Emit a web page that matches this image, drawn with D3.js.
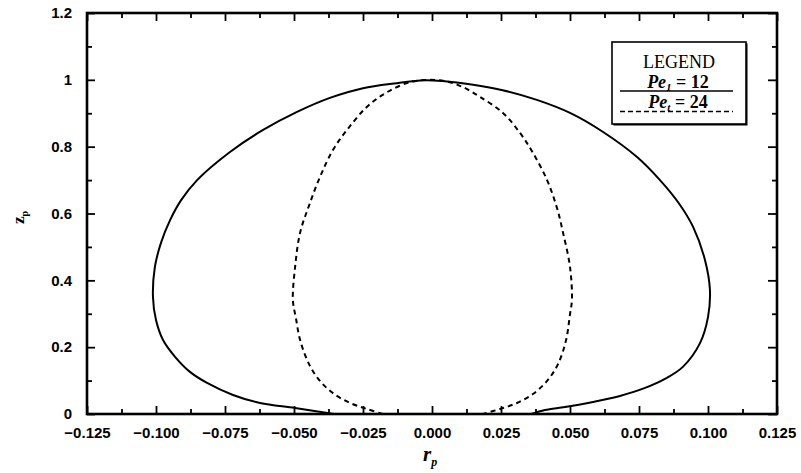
<!DOCTYPE html>
<html>
<head>
<meta charset="utf-8">
<script src="https://cdn.jsdelivr.net/npm/d3@7"></script>
<style>
  body { margin: 0; background: #fff; }
  svg { display: block; }
</style>
</head>
<body>
<svg id="chart" width="801" height="473"></svg>
<script>
// data: [r_p, z_p]
var pe12 = [
  [-0.0355, 0.000], [-0.0496, 0.018], [-0.0623, 0.033], [-0.0721, 0.057],
  [-0.0815, 0.093], [-0.0877, 0.126], [-0.0931, 0.171], [-0.0975, 0.222],
  [-0.1000, 0.281], [-0.1011, 0.350], [-0.1004, 0.440], [-0.0982, 0.512],
  [-0.0949, 0.580], [-0.0909, 0.640], [-0.0851, 0.700], [-0.0732, 0.784],
  [-0.0612, 0.850], [-0.0489, 0.904], [-0.0370, 0.946], [-0.0250, 0.975],
  [-0.0127, 0.990], [-0.0030, 0.999], [0.0046, 0.996], [0.0137, 0.987],
  [0.0256, 0.969], [0.0380, 0.940], [0.0500, 0.901], [0.0620, 0.844],
  [0.0743, 0.769], [0.0826, 0.700], [0.0895, 0.630], [0.0946, 0.560],
  [0.0989, 0.461], [0.1007, 0.371], [0.1000, 0.290], [0.0971, 0.212],
  [0.0909, 0.141], [0.0844, 0.105], [0.0772, 0.078], [0.0681, 0.054],
  [0.0583, 0.036], [0.0482, 0.021], [0.0409, 0.012], [0.0360, 0.000]
];
var pe24 = [
  [-0.0178, 0.000], [-0.0236, 0.015], [-0.0297, 0.033], [-0.0355, 0.060],
  [-0.0406, 0.099], [-0.0446, 0.150], [-0.0478, 0.222], [-0.0493, 0.287],
  [-0.0504, 0.341], [-0.0496, 0.440], [-0.0478, 0.542], [-0.0445, 0.625],
  [-0.0406, 0.709], [-0.0359, 0.790], [-0.0308, 0.850], [-0.0236, 0.919],
  [-0.0163, 0.963], [-0.0080, 0.993], [-0.0008, 1.000], [0.0065, 0.993],
  [0.0120, 0.975], [0.0174, 0.949], [0.0257, 0.901], [0.0319, 0.841],
  [0.0366, 0.781], [0.0417, 0.700], [0.0453, 0.616], [0.0475, 0.542],
  [0.0500, 0.440], [0.0507, 0.341], [0.0500, 0.299], [0.0486, 0.222],
  [0.0457, 0.150], [0.0417, 0.099], [0.0366, 0.060], [0.0308, 0.033],
  [0.0246, 0.015], [0.0185, 0.000]
];

var xTicks = [-0.125, -0.100, -0.075, -0.050, -0.025, 0, 0.025, 0.050, 0.075, 0.100, 0.125];
var xTickLabels = ["\u22120.125", "\u22120.100", "\u22120.075", "\u22120.050", "\u22120.025",
                   "0.000", "0.025", "0.050", "0.075", "0.100", "0.125"];
var yTicks = [0, 0.2, 0.4, 0.6, 0.8, 1, 1.2];
var yTickLabels = ["0", "0.2", "0.4", "0.6", "0.8", "1", "1.2"];
var xMinor = [-0.1125, -0.0875, -0.0625, -0.0375, -0.0125, 0.0125, 0.0375, 0.0625, 0.0875, 0.1125];
var yMinor = [0.1, 0.3, 0.5, 0.7, 0.9, 1.1];

var legendTitle = "LEGEND";
var seriesNames = [["Pe", "1", " = 12"], ["Pe", "t", " = 24"]];

var svg = d3.select("#chart");
var pLeft = 87, pRight = 777, pTop = 13, pBottom = 414;

var x = d3.scaleLinear().domain([-0.125, 0.125]).range([pLeft, pRight]);
var y = d3.scaleLinear().domain([0, 1.2]).range([pBottom, pTop]);

var tickFont = "'Liberation Sans', Arial, sans-serif";

function styleAxis(g) {
  g.select(".domain").remove();
  g.selectAll(".tick line").attr("stroke", "#000").attr("stroke-width", 1.8);
  g.selectAll("text").attr("fill", "#000")
    .style("font-family", tickFont).style("font-weight", "bold").style("font-size", "15px");
}

//bottom axis with labels
svg.append("g")
  .attr("transform", "translate(0," + pBottom + ")")
  .call(d3.axisBottom(x).tickValues(xTicks).tickSize(-8).tickSizeOuter(0).tickPadding(13)
    .tickFormat(function (d, i) { return xTickLabels[i]; }))
  .call(styleAxis);
svg.append("g")
  .attr("transform", "translate(0," + pBottom + ")")
  .call(d3.axisBottom(x).tickValues(xMinor).tickSize(-5).tickFormat(""))
  .call(styleAxis);

//top axis, ticks only
svg.append("g")
  .attr("transform", "translate(0," + pTop + ")")
  .call(d3.axisTop(x).tickValues(xTicks).tickSize(-8).tickFormat(""))
  .call(styleAxis);
svg.append("g")
  .attr("transform", "translate(0," + pTop + ")")
  .call(d3.axisTop(x).tickValues(xMinor).tickSize(-5).tickFormat(""))
  .call(styleAxis);

//left axis with labels
svg.append("g")
  .attr("transform", "translate(" + pLeft + ",0)")
  .call(d3.axisLeft(y).tickValues(yTicks).tickSize(-8).tickSizeOuter(0).tickPadding(15)
    .tickFormat(function (d, i) { return yTickLabels[i]; }))
  .call(styleAxis);
svg.append("g")
  .attr("transform", "translate(" + pLeft + ",0)")
  .call(d3.axisLeft(y).tickValues(yMinor).tickSize(-5).tickFormat(""))
  .call(styleAxis);

//right axis, ticks only
svg.append("g")
  .attr("transform", "translate(" + pRight + ",0)")
  .call(d3.axisRight(y).tickValues(yTicks).tickSize(-9).tickFormat(""))
  .call(styleAxis);
svg.append("g")
  .attr("transform", "translate(" + pRight + ",0)")
  .call(d3.axisRight(y).tickValues(yMinor).tickSize(-5).tickFormat(""))
  .call(styleAxis);

//frame
svg.append("rect")
  .attr("x", pLeft).attr("y", pTop)
  .attr("width", pRight - pLeft).attr("height", pBottom - pTop)
  .attr("fill", "none").attr("stroke", "#000").attr("stroke-width", 2.6);

//curves
var line = d3.line()
  .x(function (d) { return x(d[0]); })
  .y(function (d) { return y(d[1]); })
  .curve(d3.curveCatmullRom.alpha(0.5));

svg.append("path").datum(pe12)
  .attr("d", line).attr("fill", "none")
  .attr("stroke", "#000").attr("stroke-width", 2);
svg.append("path").datum(pe24)
  .attr("d", line).attr("fill", "none")
  .attr("stroke", "#000").attr("stroke-width", 2)
  .attr("stroke-dasharray", "5,4");

//axis titles
var serif = "'Liberation Serif', 'Times New Roman', serif";
var xt = svg.append("text")
  .attr("x", 423).attr("y", 461)
  .style("font-family", serif).style("font-style", "italic")
  .style("font-weight", "bold").style("font-size", "21px");
xt.append("tspan").text("r");
xt.append("tspan").attr("dy", 5).style("font-size", "12px").text("p");

var yt = svg.append("text")
  .attr("transform", "translate(24,224) rotate(-90)")
  .style("font-family", serif).style("font-weight", "bold").style("font-size", "17px");
yt.append("tspan").text("z");
yt.append("tspan").attr("dy", 4).style("font-size", "10px").text("p");

//legend
var lg = svg.append("g");
lg.append("rect")
  .attr("x", 613.5).attr("y", 43.5).attr("width", 134).attr("height", 82)
  .attr("fill", "#000");
lg.append("rect")
  .attr("x", 612).attr("y", 42).attr("width", 134).attr("height", 82)
  .attr("fill", "#fff").attr("stroke", "#000").attr("stroke-width", 1.6);
lg.append("text")
  .attr("x", 679).attr("y", 68).attr("text-anchor", "middle")
  .style("font-family", serif).style("font-size", "18px")
  .text(legendTitle);

var rows = [{ y: 88, ly: 91, dash: null }, { y: 108, ly: 111.5, dash: "5,3" }];
seriesNames.forEach(function (s, i) {
  var t = lg.append("text")
    .attr("x", 678).attr("y", rows[i].y).attr("text-anchor", "middle")
    .style("font-family", serif).style("font-size", "18px").style("font-weight", "bold");
  t.append("tspan").style("font-style", "italic").text(s[0]);
  t.append("tspan").attr("dy", 3).style("font-size", "11px").style("font-style", "italic").text(s[1]);
  t.append("tspan").attr("dy", -3).text(s[2]);
  lg.append("line")
    .attr("x1", 620).attr("x2", 733)
    .attr("y1", rows[i].ly).attr("y2", rows[i].ly)
    .attr("stroke", "#000").attr("stroke-width", 1.5)
    .attr("stroke-dasharray", rows[i].dash);
});
</script>
</body>
</html>
